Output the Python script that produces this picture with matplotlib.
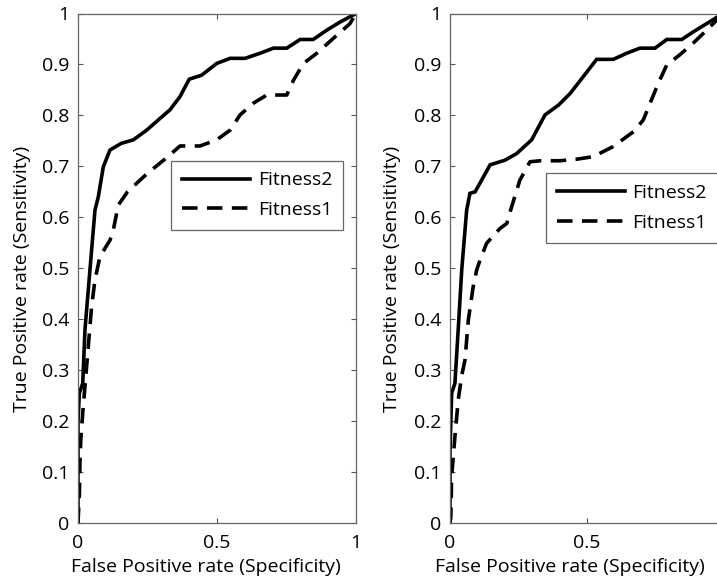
import matplotlib
matplotlib.use('Agg')
import matplotlib.pyplot as plt

plt.rcParams['font.family'] = ['Open Sans', 'DejaVu Sans']

# left panel
fpr_a2 = [0.0, 0.0, 0.005, 0.017, 0.025, 0.043, 0.061, 0.073, 0.091, 0.115, 0.155,
          0.199, 0.247, 0.295, 0.331, 0.367, 0.400, 0.445, 0.499, 0.547, 0.601,
          0.655, 0.703, 0.751, 0.799, 0.846, 0.894, 0.942, 1.0]
tpr_a2 = [0.0, 0.20, 0.255, 0.274, 0.379, 0.497, 0.614, 0.640, 0.699, 0.732, 0.745,
          0.752, 0.771, 0.794, 0.811, 0.837, 0.871, 0.879, 0.902, 0.912, 0.912,
          0.922, 0.932, 0.932, 0.949, 0.949, 0.967, 0.983, 1.0]
fpr_a1 = [0.0, 0.005, 0.007, 0.010, 0.017, 0.025, 0.033, 0.041, 0.049, 0.061, 0.079,
          0.115, 0.127, 0.145, 0.178, 0.247, 0.319, 0.367, 0.439, 0.499, 0.547,
          0.583, 0.631, 0.679, 0.751, 0.775, 0.811, 0.859, 0.918, 0.978, 1.0]
tpr_a1 = [0.0, 0.058, 0.118, 0.163, 0.216, 0.268, 0.320, 0.373, 0.425, 0.477, 0.523,
          0.555, 0.575, 0.624, 0.650, 0.685, 0.717, 0.740, 0.740, 0.752, 0.771,
          0.801, 0.824, 0.840, 0.840, 0.869, 0.902, 0.922, 0.951, 0.980, 1.0]

# right panel
fpr_b2 = [0.0, 0.0, 0.006, 0.018, 0.030, 0.043, 0.061, 0.073, 0.092, 0.147, 0.201,
          0.244, 0.299, 0.348, 0.397, 0.440, 0.488, 0.537, 0.598, 0.647, 0.696,
          0.751, 0.794, 0.849, 0.891, 0.940, 1.0]
tpr_b2 = [0.0, 0.14, 0.255, 0.274, 0.379, 0.497, 0.614, 0.647, 0.650, 0.703, 0.712,
          0.725, 0.752, 0.801, 0.820, 0.843, 0.876, 0.910, 0.910, 0.922, 0.932,
          0.932, 0.949, 0.949, 0.964, 0.980, 1.0]
fpr_b1 = [0.0, 0.003, 0.006, 0.018, 0.030, 0.043, 0.055, 0.067, 0.085, 0.098, 0.110,
          0.134, 0.183, 0.208, 0.226, 0.256, 0.293, 0.330, 0.403, 0.464, 0.525,
          0.598, 0.672, 0.708, 0.733, 0.763, 0.794, 0.842, 0.891, 0.928, 0.964, 1.0]
tpr_b1 = [0.0, 0.012, 0.091, 0.169, 0.241, 0.290, 0.320, 0.398, 0.464, 0.497, 0.516,
          0.549, 0.578, 0.588, 0.621, 0.673, 0.709, 0.711, 0.711, 0.714, 0.719,
          0.739, 0.768, 0.791, 0.824, 0.863, 0.899, 0.919, 0.942, 0.961, 0.980, 1.0]

labels = ['Fitness2', 'Fitness1']
xticks = [0, 0.5, 1]
yticks = [0, 0.1, 0.2, 0.3, 0.4, 0.5, 0.6, 0.7, 0.8, 0.9, 1]
xtick_labels_a = ['0', '0.5', '1']
xtick_labels_b = ['0', '0.5', '']  # the right panel is cut off at the figure edge
ytick_labels = ['0', '0.1', '0.2', '0.3', '0.4', '0.5', '0.6', '0.7', '0.8', '0.9', '1']

FS = 14

fig = plt.figure(figsize=(7.17, 5.83), dpi=100)
ax1 = fig.add_axes([78 / 717, 60 / 583, 278 / 717, 509.5 / 583])
ax2 = fig.add_axes([450 / 717, 60 / 583, 273 / 717, 509.5 / 583])

panels = [
    (ax1, fpr_a2, tpr_a2, fpr_a1, tpr_a1, xtick_labels_a, (0.335, 0.711), 0.46, -0.17),
    (ax2, fpr_b2, tpr_b2, fpr_b1, tpr_b1, xtick_labels_b, (0.352, 0.686), 0.44, -0.18),
]

for ax, x2, y2, x1, y1, xtl, leg_pos, xl_x, yl_x in panels:
    ax.plot(x2, y2, color='black', lw=2.6, solid_joinstyle='miter', label=labels[0])
    ax.plot(x1, y1, color='black', lw=2.6, dashes=(4.3, 2.6), label=labels[1])
    ax.set_xlim(0, 1)
    ax.set_ylim(0, 1)
    ax.set_xticks(xticks)
    ax.set_xticklabels(xtl)
    ax.set_yticks(yticks)
    ax.set_yticklabels(ytick_labels)
    ax.tick_params(direction='in', length=3.5, width=0.8, color='#555555',
                   top=True, right=True, labelsize=FS)
    ax.tick_params(axis='x', pad=8)
    ax.tick_params(axis='y', pad=6)
    for sp in ax.spines.values():
        sp.set_color('#666666')
        sp.set_linewidth(0.9)
    ax.set_xlabel('False Positive rate (Specificity)', fontsize=FS)
    ax.set_ylabel('True Positive rate (Sensitivity)', fontsize=FS)
    ax.xaxis.set_label_coords(xl_x, -0.068)
    ax.yaxis.set_label_coords(yl_x, 0.479)
    leg = ax.legend(loc='upper left', bbox_to_anchor=leg_pos, fontsize=FS,
                    handlelength=3.5, handletextpad=0.4, fancybox=False,
                    framealpha=1, edgecolor='#666666', borderpad=0.55,
                    labelspacing=0.6, borderaxespad=0)
    leg.get_frame().set_linewidth(0.9)

fig.savefig('out.png', dpi=100)
